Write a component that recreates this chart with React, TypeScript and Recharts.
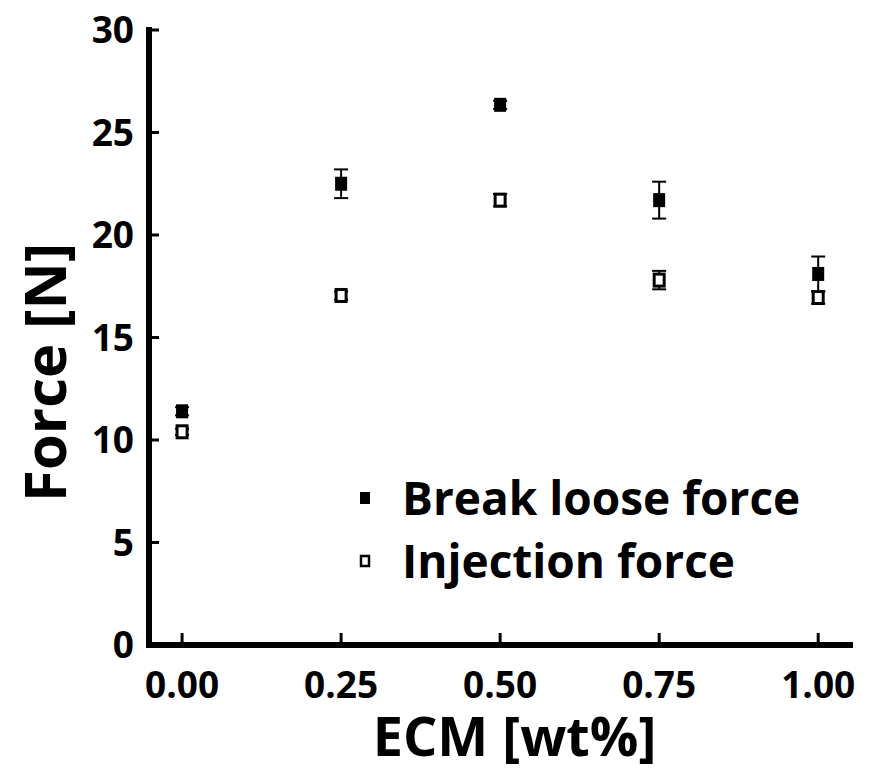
import React from 'react';
import { ScatterChart, Scatter, XAxis, YAxis, ErrorBar, Legend } from 'recharts';

const ecm = [0, 0.25, 0.5, 0.75, 1.0];
const breakLoose = [11.4, 22.5, 26.35, 21.7, 18.1];
const breakLooseErr = [0.2, 0.7, 0.2, 0.9, 0.85];
const injection = [10.4, 17.05, 21.7, 17.8, 16.95];
const injectionErr = [0.15, 0.2, 0.3, 0.45, 0.3];
const xTicks = [0, 0.25, 0.5, 0.75, 1.0];
const yTicks = [0, 5, 10, 15, 20, 25, 30];
const seriesNames = ['Break loose force', 'Injection force'];

const breakRows = ecm.map((x, i) => ({ x, y: breakLoose[i], err: breakLooseErr[i] }));
const injRows = ecm.map((x, i) => ({ x, y: injection[i], err: injectionErr[i] }));

const FONT = "'Open Sans', 'Liberation Sans', sans-serif";

const FilledSq = (p: any) => (
  <rect x={p.cx - 6} y={p.cy - 7} width={12} height={14} fill="#000" />
);
const HollowSq = (p: any) => (
  <rect x={p.cx - 5} y={p.cy - 6} width={10} height={12} fill="#fff" stroke="#000" strokeWidth={3} />
);

const XLabel = (props: any) => {
  const vb = props.viewBox || {};
  return (
    <text x={vb.x + vb.width / 2 + 15} y={vb.y + vb.height - 16} textAnchor="middle"
      fontFamily={FONT} fontWeight={700} fontSize={54} fill="#000">ECM [wt%]</text>
  );
};
const YLabel = (props: any) => {
  const vb = props.viewBox || {};
  const cx = vb.x + 43;
  const cy = vb.y + vb.height / 2 + 35;
  return (
    <text x={cx} y={cy} transform={`rotate(-90, ${cx}, ${cy})`} textAnchor="middle" dominantBaseline="central"
      fontFamily={FONT} fontWeight={700} fontSize={58} fill="#000">Force [N]</text>
  );
};

const LegendContent = (props: any) => {
  const payload = props.payload || [];
  return (
    <div style={{ fontFamily: FONT, fontWeight: 700, fontSize: 46, color: '#000' }}>
      {payload.map((e: any, i: number) => (
        <div key={i} style={{ display: 'flex', alignItems: 'center', height: 63 }}>
          <svg width={14} height={16} style={{ marginRight: 30 }}>
            {e.value === seriesNames[0]
              ? <rect x={2} y={2} width={10} height={12} fill="#000" />
              : <rect x={3} y={3} width={8} height={10} fill="#fff" stroke="#000" strokeWidth={2.5} />}
          </svg>
          <span style={{ lineHeight: '63px', whiteSpace: 'nowrap' }}>{e.value}</span>
        </div>
      ))}
    </div>
  );
};

export default function App() {
  const tickStyle = { fontSize: 37, fontWeight: 700, fill: '#000', fontFamily: FONT };
  const axisLine = { stroke: '#000', strokeWidth: 6, strokeLinecap: 'square' as const };
  const tickLine = { stroke: '#000', strokeWidth: 3 };
  return (
    <div style={{ margin: -8, width: 876, height: 772 }}>
      <ScatterChart width={876} height={772} margin={{ top: 30, right: 26, bottom: 0, left: 0 }}>
        <XAxis dataKey="x" type="number" domain={[-0.052, 1.05]} ticks={xTicks}
          tickFormatter={(v: number) => v.toFixed(2)} height={127}
          stroke="#000" strokeWidth={6}
          tick={tickStyle} tickSize={-12} tickMargin={39}
          tickLine={tickLine} axisLine={axisLine}
          label={<XLabel />} />
        <XAxis xAxisId="top" orientation="top" type="number" domain={[-0.052, 1.05]} height={0}
          stroke="#000" strokeWidth={6}
          tick={false} tickLine={false} axisLine={axisLine} />
        <YAxis dataKey="y" type="number" domain={[0, 30]} ticks={yTicks} width={149}
          stroke="#000" strokeWidth={6}
          tick={tickStyle} tickSize={-10} tickMargin={25}
          tickLine={tickLine} axisLine={axisLine}
          label={<YLabel />} />
        <YAxis yAxisId="right" orientation="right" type="number" domain={[0, 30]} width={0}
          stroke="#000" strokeWidth={6}
          tick={false} tickLine={false} axisLine={axisLine} />
        <Legend layout="vertical" align="center" verticalAlign="middle" content={<LegendContent />}
          wrapperStyle={{ left: 358, top: 466, width: 500 }} />
        <Scatter name={seriesNames[0]} data={breakRows} shape={<FilledSq />} fill="#000" isAnimationActive={false}>
          <ErrorBar dataKey="err" direction="y" width={7} stroke="#000" strokeWidth={2} />
        </Scatter>
        <Scatter name={seriesNames[1]} data={injRows} shape={<HollowSq />} fill="#fff" isAnimationActive={false}>
          <ErrorBar dataKey="err" direction="y" width={7} stroke="#000" strokeWidth={2} />
        </Scatter>
      </ScatterChart>
    </div>
  );
}
